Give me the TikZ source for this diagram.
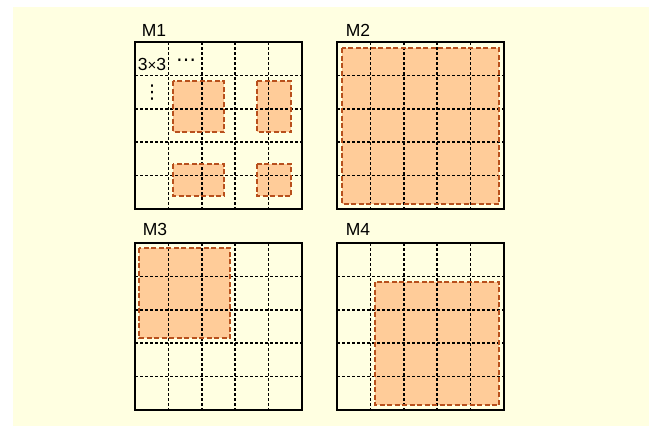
\documentclass[tikz,border=0pt]{standalone}
\usepackage{fontspec}
\setmainfont{Liberation Sans}
\newfontfamily\symfont{DejaVu Sans}
\definecolor{bgyellow}{RGB}{255,255,225}
\definecolor{patchfill}{RGB}{255,204,153}
\definecolor{patchedge}{RGB}{184,80,28}
\tikzset{
  gridframe/.style={draw=black, line width=1.6pt},
  gridline/.style={draw=black, line width=1.6pt, dash pattern=on 3pt off 2pt},
  patch/.style={fill=patchfill, draw=none},
  patchborder/.style={draw=patchedge, line width=1.8pt, dash pattern=on 5pt off 2.5pt},
  mlabel/.style={font=\fontsize{17.5}{20}\selectfont, inner sep=0pt, anchor=center}
}
\newcommand{\mygridlines}[2]{%
  \foreach \k in {1,2,3,4} {
    \draw[gridline] ({#1+33.4*\k},#2) -- ({#1+33.4*\k},{#2+167});
    \draw[gridline] (#1,{#2+33.4*\k}) -- ({#1+167},{#2+33.4*\k});
  }
  \draw[gridframe] (#1,#2) rectangle ({#1+167},{#2+167});
}
\newcommand{\mypatch}[4]{%
  \fill[patch] (#1,#2) rectangle (#3,#4);
}
\newcommand{\mypatchborder}[4]{%
  \draw[patchborder] (#1,#2) rectangle (#3,#4);
}
\begin{document}
\begin{tikzpicture}[x=1pt,y=-1pt]
\useasboundingbox (0,0) rectangle (649,426);
\fill[bgyellow] (13,7) rectangle (649,426);
% patches fill
\mypatch{173}{81}{224}{132}
\mypatch{257}{81}{291}{132}
\mypatch{173}{164}{224}{196}
\mypatch{257}{164}{291}{196}
\mypatch{342}{48}{499}{204}
\mypatch{139}{248}{230}{338}
\mypatch{375}{282}{499}{405}
% grids
\mygridlines{135}{42}
\mygridlines{337}{42}
\mygridlines{135}{243}
\mygridlines{337}{243}
% patch borders
\mypatchborder{173}{81}{224}{132}
\mypatchborder{257}{81}{291}{132}
\mypatchborder{173}{164}{224}{196}
\mypatchborder{257}{164}{291}{196}
\mypatchborder{342}{48}{499}{204}
\mypatchborder{139}{248}{230}{338}
\mypatchborder{375}{282}{499}{405}
% labels
\node[mlabel] (m1) at (154,30) {M1};
\node[mlabel] (m2) at (358,30) {M2};
\node[mlabel] (m3) at (155,229) {M3};
\node[mlabel] (m4) at (358,229) {M4};
\node[mlabel] (size) at (152,64.5) {3{\fontsize{15}{16}\selectfont\raisebox{0.5pt}{×}}3};
\node[mlabel] (hdots) at (186,63) {\symfont\fontsize{20}{22}\selectfont ⋯};
\node[mlabel] (vdots) at (152,93) {\symfont\fontsize{19}{20}\selectfont ⋮};
\end{tikzpicture}
\end{document}
